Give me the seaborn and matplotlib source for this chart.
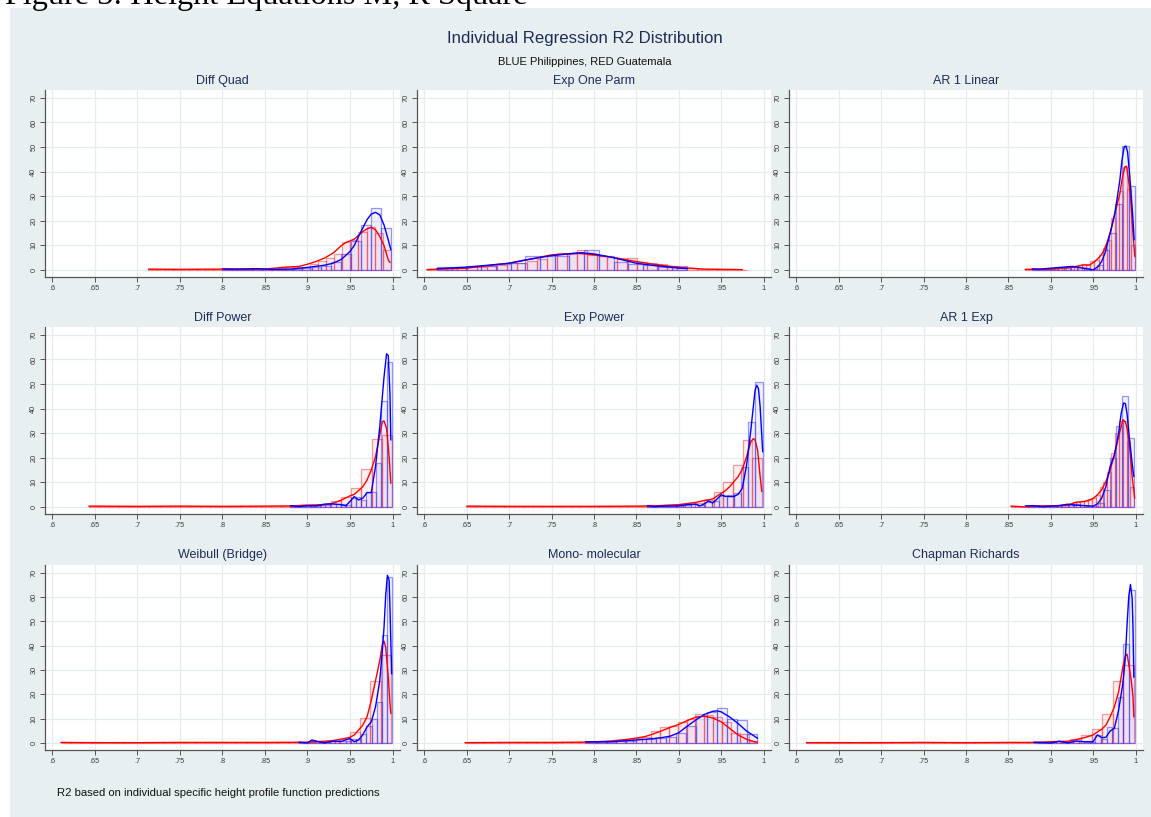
import numpy as np
import matplotlib
matplotlib.use("Agg")
import matplotlib.pyplot as plt
from matplotlib.patches import Rectangle
import seaborn as sns

# ---------------------------------------------------------------- data
PANEL_TITLES = ["Diff Quad", "Exp One Parm", "AR 1 Linear",
                "Diff Power", "Exp Power", "AR 1 Exp",
                "Weibull (Bridge)", "Mono- molecular", "Chapman Richards"]
X_TICKS = [0.6, 0.65, 0.7, 0.75, 0.8, 0.85, 0.9, 0.95, 1.0]
X_TICK_LABELS = [".6", ".65", ".7", ".75", ".8", ".85", ".9", ".95", "1"]
Y_TICKS = [0, 10, 20, 30, 40, 50, 60, 70]
Y_TICK_LABELS = ["0", "10", "20", "30", "40", "50", "60", "70"]

# GT = Guatemala (red), PH = Philippines (blue)
# histogram: first bin edge, bin width, bar heights (density)
# kde: curve x / y

# Diff Quad
DQ_GT_BIN = (0.713, 0.0095)
DQ_GT_HIST = [0.3, 0.2, 0.2, 0.2, 0.3, 0.2, 0.3, 0.2, 0.2, 0.3, 0.2, 0.3, 0.3, 0.3,
              0.3, 0.4, 0.6, 1.0, 1.0, 1.3, 2.2, 3.5, 5.0, 6.5, 11.5, 12.0, 15.6, 17.5, 15.0, 8.0]
DQ_GT_KDE_X = [0.713, 0.75, 0.80, 0.85, 0.87, 0.89, 0.90, 0.91, 0.92, 0.93, 0.94, 0.945, 0.95,
               0.955, 0.96, 0.965, 0.97, 0.975, 0.98, 0.985, 0.99, 0.995, 0.997]
DQ_GT_KDE_Y = [0.3, 0.2, 0.3, 0.3, 1.0, 1.4, 2.3, 3.4, 4.8, 6.8, 9.9, 11.1, 11.8,
               12.5, 14.0, 15.6, 16.7, 17.3, 16.3, 13.6, 9.9, 4.1, 3.0]
DQ_PH_BIN = (0.80, 0.01165)
DQ_PH_HIST = [0.5, 0.3, 0.5, 0.3, 0.2, 0.3, 0.3, 0.5, 0.8, 1.2, 1.5, 3.1, 6.5, 11.6, 18.1, 25.1, 17.0]
DQ_PH_KDE_X = [0.80, 0.82, 0.84, 0.86, 0.88, 0.90, 0.92, 0.93, 0.94, 0.95, 0.955, 0.96, 0.965,
               0.97, 0.975, 0.98, 0.985, 0.99, 0.995, 0.998]
DQ_PH_KDE_Y = [0.4, 0.3, 0.5, 0.2, 0.3, 1.0, 1.9, 2.7, 4.3, 7.5, 9.9, 13.6, 17.0,
               20.4, 22.7, 23.4, 22.4, 18.3, 12.2, 8.2]

# Exp One Parm
EO_GT_BIN = (0.603, 0.0118)
EO_GT_HIST = [0.3, 0.5, 0.6, 0.8, 1.0, 1.2, 1.5, 2.0, 2.7, 3.0, 3.5, 4.5, 6.0, 6.8, 6.5, 8.2,
              6.0, 5.5, 5.2, 5.0, 4.8, 3.4, 2.8, 2.3, 1.5, 1.0, 0.7, 0.4, 0.3, 0.2, 0.2, 0.1]
EO_GT_KDE_X = [0.603, 0.65, 0.70, 0.72, 0.75, 0.78, 0.80, 0.82, 0.85, 0.87, 0.90, 0.93, 0.975]
EO_GT_KDE_Y = [0.1, 0.7, 2.7, 4.0, 6.1, 6.8, 6.1, 5.2, 3.4, 2.3, 1.0, 0.3, 0.1]
EO_PH_BIN = (0.615, 0.01735)
EO_PH_HIST = [1.1, 1.2, 1.5, 1.5, 2.3, 3.0, 5.8, 5.8, 5.7, 6.8, 8.2, 5.8, 3.4, 2.5, 1.8, 1.2, 1.4]
EO_PH_KDE_X = [0.615, 0.65, 0.70, 0.72, 0.75, 0.785, 0.80, 0.82, 0.85, 0.87, 0.90, 0.91]
EO_PH_KDE_Y = [0.5, 1.1, 2.7, 4.1, 5.8, 7.0, 6.5, 5.2, 2.7, 1.8, 0.7, 0.5]

# AR 1 Linear
AL_GT_BIN = (0.870, 0.0048)
AL_GT_HIST = [0.3, 0.2, 0.3, 0.3, 0.3, 0.4, 0.5, 0.6, 0.8, 1.0, 1.2, 1.2, 1.5, 2.0, 2.2, 2.0,
              3.5, 4.0, 6.0, 9.0, 12.0, 21.0, 27.0, 32.0, 42.0, 33.0, 10.0]
AL_GT_KDE_X = [0.870, 0.90, 0.926, 0.938, 0.946, 0.952, 0.958, 0.962, 0.966, 0.970, 0.9736,
               0.9776, 0.9815, 0.9846, 0.9874, 0.9894, 0.9913, 0.9941, 0.9972, 0.9992]
AL_GT_KDE_Y = [0.2, 0.3, 1.1, 2.0, 2.0, 3.4, 5.4, 7.4, 10.8, 14.9, 20.3,
               25.7, 31.0, 37.8, 41.9, 42.2, 37.8, 29.7, 13.5, 5.4]
AL_PH_BIN = (0.878, 0.0076)
AL_PH_HIST = [0.4, 0.3, 0.2, 0.4, 0.6, 0.9, 1.3, 1.0, 0.8, 0.5, 1.8, 8.0, 15.0, 27.0, 50.5, 34.0]
AL_PH_KDE_X = [0.878, 0.887, 0.9106, 0.926, 0.938, 0.950, 0.956, 0.960, 0.964, 0.968, 0.972,
               0.9756, 0.978, 0.9815, 0.984, 0.9866, 0.9886, 0.9906, 0.9933, 0.9965, 0.9984]
AL_PH_KDE_Y = [0.4, 0.3, 1.0, 1.4, 0.7, 0.0, 1.4, 3.4, 6.8, 12.2, 17.6,
               23.0, 28.4, 36.5, 44.6, 50.0, 50.4, 48.0, 37.8, 23.0, 12.2]

# Diff Power
DP_GT_BIN = (0.643, 0.01187)
DP_GT_HIST = [0.3, 0.2, 0.2, 0.3, 0.2, 0.2, 0.3, 0.2, 0.3, 0.2, 0.2, 0.3, 0.2, 0.2, 0.3, 0.2,
              0.2, 0.3, 0.3, 0.4, 0.5, 0.8, 0.9, 1.2, 2.4, 4.2, 7.8, 15.3, 27.8, 29.2]
DP_GT_KDE_X = [0.643, 0.70, 0.75, 0.80, 0.85, 0.88, 0.90, 0.92, 0.93, 0.94, 0.95, 0.955, 0.96,
               0.965, 0.97, 0.975, 0.98, 0.985, 0.988, 0.99, 0.993, 0.996, 0.998]
DP_GT_KDE_Y = [0.3, 0.2, 0.3, 0.2, 0.3, 0.4, 0.7, 0.9, 1.5, 2.8, 4.5, 5.1, 6.6,
               8.2, 10.9, 15.0, 20.4, 29.2, 34.6, 35.0, 31.9, 20.4, 9.6]
DP_PH_BIN = (0.879, 0.006)
DP_PH_HIST = [0.5, 0.3, 0.2, 0.3, 0.4, 0.5, 0.6, 0.8, 1.0, 1.2, 1.2, 0.8, 3.5, 4.0, 3.0, 6.0,
              6.0, 18.0, 43.0, 59.0]
DP_PH_KDE_X = [0.88, 0.89, 0.90, 0.91, 0.92, 0.93, 0.94, 0.945, 0.95, 0.955, 0.96, 0.965, 0.97,
               0.975, 0.98, 0.985, 0.99, 0.993, 0.995, 0.997, 0.998]
DP_PH_KDE_Y = [0.5, 0.1, 0.5, 0.4, 1.1, 1.2, 0.9, 0.4, 2.2, 4.2, 2.8, 3.5, 5.8,
               5.8, 16.4, 32.6, 52.8, 62.3, 61.6, 46.0, 27.2]

# Exp Power
EP_GT_BIN = (0.649, 0.01125)
EP_GT_HIST = [0.3, 0.2, 0.3, 0.2, 0.2, 0.3, 0.2, 0.2, 0.3, 0.2, 0.2, 0.2, 0.3, 0.2, 0.2, 0.3,
              0.3, 0.2, 0.3, 0.4, 0.4, 0.6, 0.9, 1.2, 1.6, 2.8, 6.2, 10.0, 17.0, 27.2, 19.7]
EP_GT_KDE_X = [0.65, 0.70, 0.75, 0.80, 0.85, 0.87, 0.90, 0.92, 0.93, 0.94, 0.95, 0.955, 0.96,
               0.97, 0.975, 0.98, 0.985, 0.988, 0.99, 0.993, 0.996, 0.998]
EP_GT_KDE_Y = [0.3, 0.2, 0.2, 0.2, 0.3, 0.4, 0.9, 1.8, 2.6, 3.2, 5.5, 6.6, 8.2,
               12.3, 15.3, 20.4, 26.5, 27.8, 27.2, 23.1, 12.3, 6.2]
EP_PH_BIN = (0.863, 0.0085)
EP_PH_HIST = [0.6, 0.2, 0.3, 0.3, 0.4, 0.8, 1.0, 0.8, 1.8, 2.5, 4.5, 4.7, 5.5, 16.4, 34.6, 51.0]
EP_PH_KDE_X = [0.863, 0.87, 0.88, 0.90, 0.91, 0.92, 0.925, 0.93, 0.935, 0.94, 0.945, 0.95,
               0.955, 0.96, 0.965, 0.97, 0.975, 0.98, 0.985, 0.99, 0.992, 0.994, 0.996, 0.998, 0.999]
EP_PH_KDE_Y = [0.5, 0.1, 0.3, 0.4, 0.9, 1.1, 0.4, 1.2, 2.4, 1.6, 3.1, 4.9,
               4.3, 4.2, 4.2, 5.1, 7.6, 17.0, 31.2, 47.4, 49.5, 48.1, 40.7, 28.5, 22.4]

# AR 1 Exp
AE_GT_BIN = (0.853, 0.00455)
AE_GT_HIST = [0.3, 0.2, 0.1, 0.1, 0.2, 0.3, 0.4, 0.4, 0.4, 0.4, 0.4, 0.5, 0.6, 0.7, 0.8, 1.2,
              1.8, 2.0, 2.2, 2.5, 3.0, 3.5, 5.0, 8.0, 10.0, 14.0, 22.0, 30.0, 35.0, 35.0, 27.0, 8.0]
AE_GT_KDE_X = [0.853, 0.87, 0.88, 0.90, 0.92, 0.93, 0.94, 0.95, 0.955, 0.96, 0.965, 0.97,
               0.975, 0.98, 0.985, 0.988, 0.99, 0.993, 0.996, 0.999]
AE_GT_KDE_Y = [0.3, 0.0, 0.4, 0.4, 0.7, 1.9, 2.2, 3.4, 4.9, 6.9, 10.3, 15.0,
               21.1, 28.5, 35.5, 34.6, 31.9, 24.5, 12.3, 3.5]
AE_PH_BIN = (0.8715, 0.00705)
AE_PH_HIST = [0.4, 0.5, 0.4, 0.2, 0.3, 0.4, 0.6, 0.8, 1.0, 0.8, 0.5, 0.5, 1.5, 7.0, 20.0, 33.0,
              45.0, 28.0]
AE_PH_KDE_X = [0.87, 0.88, 0.89, 0.90, 0.91, 0.92, 0.93, 0.94, 0.95, 0.955, 0.96, 0.965, 0.97,
               0.975, 0.98, 0.983, 0.986, 0.988, 0.99, 0.993, 0.996, 0.998]
AE_PH_KDE_Y = [0.4, 0.5, 0.1, 0.3, 0.5, 1.1, 0.7, 0.5, 0.3, 1.2, 3.5, 8.2, 16.4,
               21.0, 29.9, 38.0, 42.3, 42.0, 38.0, 27.2, 17.7, 12.3]

# Weibull (Bridge)
WB_GT_BIN = (0.61, 0.01213)
WB_GT_HIST = [0.3, 0.2, 0.2, 0.2, 0.1, 0.2, 0.2, 0.1, 0.2, 0.2, 0.3, 0.2, 0.2, 0.2, 0.3, 0.2,
              0.2, 0.3, 0.2, 0.3, 0.2, 0.3, 0.2, 0.3, 0.5, 0.7, 1.0, 1.8, 4.3, 10.4, 25.6, 36.0]
WB_GT_KDE_X = [0.61, 0.65, 0.70, 0.75, 0.80, 0.85, 0.90, 0.92, 0.93, 0.94, 0.95, 0.955, 0.96,
               0.965, 0.97, 0.975, 0.98, 0.985, 0.988, 0.99, 0.992, 0.995, 0.997, 0.998]
WB_GT_KDE_Y = [0.2, 0.1, 0.1, 0.2, 0.2, 0.2, 0.3, 0.7, 1.0, 1.6, 2.3, 3.3, 5.3,
               7.3, 10.7, 17.5, 25.6, 33.8, 40.6, 41.9, 39.2, 27.0, 16.1, 12.1]
WB_PH_BIN = (0.89, 0.0061)
WB_PH_HIST = [0.3, 0.3, 1.0, 0.8, 0.3, 0.4, 0.6, 0.7, 0.8, 1.0, 1.5, 1.5, 3.5, 6.9, 10.0, 16.8,
              44.6, 68.4]
WB_PH_KDE_X = [0.89, 0.90, 0.905, 0.91, 0.92, 0.93, 0.94, 0.95, 0.955, 0.96, 0.965, 0.97, 0.975,
               0.98, 0.985, 0.988, 0.99, 0.992, 0.994, 0.996, 0.997, 0.998, 0.999]
WB_PH_KDE_Y = [0.3, 0.0, 1.2, 0.8, 0.0, 0.7, 0.7, 1.8, 0.5, 1.2, 3.3, 6.6, 8.7,
               14.8, 25.6, 37.9, 47.4, 60.9, 69.0, 67.0, 55.5, 41.9, 28.4]

# Mono- molecular
MM_GT_BIN = (0.648, 0.01045)
MM_GT_HIST = [0.2, 0.3, 0.2, 0.2, 0.2, 0.3, 0.2, 0.2, 0.2, 0.2, 0.3, 0.2, 0.2, 0.3, 0.4, 0.6,
              1.0, 1.0, 1.8, 2.0, 2.5, 5.0, 6.5, 7.0, 8.8, 10.0, 12.1, 11.5, 10.5, 8.5, 4.0, 3.5, 1.0]
MM_GT_KDE_X = [0.648, 0.70, 0.75, 0.78, 0.80, 0.82, 0.84, 0.85, 0.86, 0.87, 0.88, 0.89, 0.90,
               0.91, 0.92, 0.93, 0.94, 0.95, 0.96, 0.97, 0.98, 0.99, 0.993]
MM_GT_KDE_Y = [0.1, 0.2, 0.2, 0.3, 0.4, 0.8, 1.5, 2.0, 2.6, 3.7, 5.0, 6.4, 7.6,
               9.2, 10.6, 11.0, 10.3, 8.7, 6.0, 3.3, 1.5, 0.4, 0.3]
MM_PH_BIN = (0.79, 0.0119)
MM_PH_HIST = [0.5, 0.5, 0.5, 0.8, 1.0, 1.5, 1.8, 2.2, 2.5, 4.0, 7.0, 11.0, 12.8, 14.4, 10.0, 9.6, 3.7]
MM_PH_KDE_X = [0.79, 0.82, 0.85, 0.87, 0.88, 0.89, 0.90, 0.91, 0.92, 0.93, 0.94, 0.945, 0.95,
               0.96, 0.97, 0.98, 0.99, 0.993]
MM_PH_KDE_Y = [0.5, 0.5, 1.2, 1.8, 2.2, 2.8, 4.2, 6.9, 9.4, 11.7, 13.0, 13.2, 12.8,
               10.7, 8.0, 4.9, 2.6, 1.9]

# Chapman Richards
CR_GT_BIN = (0.612, 0.01245)
CR_GT_HIST = [0.3, 0.2, 0.2, 0.2, 0.1, 0.2, 0.2, 0.2, 0.3, 0.2, 0.2, 0.2, 0.3, 0.2, 0.2, 0.3,
              0.2, 0.2, 0.3, 0.2, 0.3, 0.2, 0.3, 0.6, 0.8, 1.5, 3.3, 5.6, 12.0, 25.6, 32.0]
CR_GT_KDE_X = [0.612, 0.65, 0.70, 0.75, 0.80, 0.85, 0.88, 0.90, 0.92, 0.93, 0.94, 0.95, 0.955,
               0.96, 0.965, 0.97, 0.975, 0.98, 0.985, 0.988, 0.99, 0.992, 0.995, 0.997, 0.998]
CR_GT_KDE_Y = [0.1, 0.1, 0.1, 0.2, 0.1, 0.2, 0.2, 0.5, 0.7, 1.4, 2.2, 3.3, 4.5,
               5.6, 7.3, 10.7, 14.8, 20.9, 31.1, 35.8, 36.5, 32.4, 25.6, 18.9, 10.7]
CR_PH_BIN = (0.88, 0.0066)
CR_PH_HIST = [0.3, 0.2, 0.1, 0.4, 0.6, 0.3, 0.4, 0.8, 0.8, 0.5, 0.5, 3.3, 1.5, 6.4, 6.0, 18.9,
              40.6, 63.0]
CR_PH_KDE_X = [0.88, 0.90, 0.91, 0.92, 0.93, 0.94, 0.95, 0.955, 0.96, 0.965, 0.97, 0.975, 0.98,
               0.985, 0.988, 0.99, 0.992, 0.994, 0.996, 0.997, 0.998]
CR_PH_KDE_Y = [0.3, 0.0, 0.7, 0.0, 0.8, 0.5, 0.5, 3.3, 2.2, 2.3, 4.9, 6.0, 13.4,
               24.3, 35.1, 48.7, 60.2, 65.2, 59.5, 47.4, 27.0]

PANELS = [
    ((DQ_GT_BIN, DQ_GT_HIST, DQ_GT_KDE_X, DQ_GT_KDE_Y), (DQ_PH_BIN, DQ_PH_HIST, DQ_PH_KDE_X, DQ_PH_KDE_Y)),
    ((EO_GT_BIN, EO_GT_HIST, EO_GT_KDE_X, EO_GT_KDE_Y), (EO_PH_BIN, EO_PH_HIST, EO_PH_KDE_X, EO_PH_KDE_Y)),
    ((AL_GT_BIN, AL_GT_HIST, AL_GT_KDE_X, AL_GT_KDE_Y), (AL_PH_BIN, AL_PH_HIST, AL_PH_KDE_X, AL_PH_KDE_Y)),
    ((DP_GT_BIN, DP_GT_HIST, DP_GT_KDE_X, DP_GT_KDE_Y), (DP_PH_BIN, DP_PH_HIST, DP_PH_KDE_X, DP_PH_KDE_Y)),
    ((EP_GT_BIN, EP_GT_HIST, EP_GT_KDE_X, EP_GT_KDE_Y), (EP_PH_BIN, EP_PH_HIST, EP_PH_KDE_X, EP_PH_KDE_Y)),
    ((AE_GT_BIN, AE_GT_HIST, AE_GT_KDE_X, AE_GT_KDE_Y), (AE_PH_BIN, AE_PH_HIST, AE_PH_KDE_X, AE_PH_KDE_Y)),
    ((WB_GT_BIN, WB_GT_HIST, WB_GT_KDE_X, WB_GT_KDE_Y), (WB_PH_BIN, WB_PH_HIST, WB_PH_KDE_X, WB_PH_KDE_Y)),
    ((MM_GT_BIN, MM_GT_HIST, MM_GT_KDE_X, MM_GT_KDE_Y), (MM_PH_BIN, MM_PH_HIST, MM_PH_KDE_X, MM_PH_KDE_Y)),
    ((CR_GT_BIN, CR_GT_HIST, CR_GT_KDE_X, CR_GT_KDE_Y), (CR_PH_BIN, CR_PH_HIST, CR_PH_KDE_X, CR_PH_KDE_Y)),
]

# ---------------------------------------------------------------- style
sns.set_theme(style="white")
plt.rcParams['font.family'] = ['Liberation Sans', 'DejaVu Sans']

W, H = 1151, 817
fig = plt.figure(figsize=(W / 100, H / 100), dpi=100)
fig.patch.set_facecolor("white")
fig.add_artist(Rectangle((10 / W, 0), (W - 10) / W, (H - 8) / H, transform=fig.transFigure,
                         facecolor="#e8eff1", edgecolor="none", zorder=-5))

NAVY = "#1c2d5a"
RED_LINE, BLUE_LINE = "#ff0000", "#0000ff"
RED_FACE, RED_EDGE = (1.0, 0.0, 0.0, 0.06), (1.0, 0.2, 0.2, 0.5)
BLUE_FACE, BLUE_EDGE = (0.0, 0.0, 1.0, 0.06), (0.2, 0.2, 1.0, 0.5)

COL_L = [45, 417, 789]
COL_R = [400, 771, 1143]
ROW_T = [90, 327, 565]
ROW_B = [277, 514, 750]
TITLE_Y = [81, 318, 555]
XLIM = (0.5914, 1.0088)
YLIM = (-2.9, 73.2)


def fig_text(x_px, y_px, s, size, **kw):
    return fig.text(x_px / W, 1 - y_px / H, s, fontsize=size, **kw)


def fit_size(s, target_w, **kw):
    t = fig.text(0, 0, s, fontsize=10, **kw)
    r = fig.canvas.get_renderer()
    w = t.get_window_extent(renderer=r).width
    t.remove()
    return 10 * target_w / w


def draw_hist(ax, binspec, heights, face, edge):
    start, width = binspec
    heights = np.asarray(heights, float)
    edges = start + width * np.arange(len(heights) + 1)
    centers = 0.5 * (edges[:-1] + edges[1:])
    n0 = len(ax.patches)
    sns.histplot(x=list(centers), weights=list(heights), bins=[float(e) for e in edges],
                 stat="count", element="bars", fill=True, ax=ax, legend=False)
    for p in ax.patches[n0:]:
        p.set_alpha(None)
        p.set_facecolor(face)
        p.set_edgecolor(edge)
        p.set_linewidth(0.9)
        p.set_zorder(2)


# ---------------------------------------------------------------- panels
for i, (gt, ph) in enumerate(PANELS):
    r, c = divmod(i, 3)
    ax = fig.add_axes([COL_L[c] / W, 1 - ROW_B[r] / H,
                       (COL_R[c] - COL_L[c]) / W, (ROW_B[r] - ROW_T[r]) / H])
    ax.set_facecolor("white")
    draw_hist(ax, gt[0], gt[1], RED_FACE, RED_EDGE)
    draw_hist(ax, ph[0], ph[1], BLUE_FACE, BLUE_EDGE)
    sns.lineplot(x=gt[2], y=gt[3], ax=ax, color=RED_LINE, linewidth=1.0,
                 sort=False, estimator=None, legend=False, zorder=3)
    sns.lineplot(x=ph[2], y=ph[3], ax=ax, color=BLUE_LINE, linewidth=1.0,
                 sort=False, estimator=None, legend=False, zorder=4)
    ax.set_xlim(*XLIM)
    ax.set_ylim(*YLIM)
    ax.set_xticks(X_TICKS)
    ax.set_xticklabels(X_TICK_LABELS)
    ax.set_yticks(Y_TICKS)
    ax.set_yticklabels(Y_TICK_LABELS, rotation=90, va="center")
    ax.set_xlabel("")
    ax.set_ylabel("")
    ax.grid(True, color="#e4ecef", linewidth=0.9)
    ax.set_axisbelow(True)
    for s in ("top", "right"):
        ax.spines[s].set_visible(False)
    for s in ("left", "bottom"):
        ax.spines[s].set_color("#555555")
        ax.spines[s].set_linewidth(0.9)
    ax.tick_params(axis="both", which="major", length=3.5, width=0.7, color="#555555",
                   labelsize=5.3, labelcolor="#3a3a3a", pad=2, direction="out",
                   bottom=True, left=True)

# ---------------------------------------------------------------- texts
ptitle_size = fit_size("Diff Quad", 53)
for i, t in enumerate(PANEL_TITLES):
    r, c = divmod(i, 3)
    fig_text((COL_L[c] + COL_R[c]) / 2, TITLE_Y[r], t, ptitle_size, color=NAVY,
             ha="center", va="center")

fig_text(585, 39, "Individual Regression R2 Distribution",
         fit_size("Individual Regression R2 Distribution", 275), color=NAVY,
         ha="center", va="center")
fig_text(585, 62, "BLUE Philippines, RED Guatemala",
         fit_size("BLUE Philippines, RED Guatemala", 174), color="#111111",
         ha="center", va="center")
fig_text(57, 793, "R2 based on individual specific height profile function predictions",
         fit_size("R2 based on individual specific height profile function predictions", 323),
         color="#111111", ha="left", va="center")
fig_text(5, 4, "Figure 3: Height Equations M, R Square",
         fit_size("Figure 3: Height Equations M, R Square", 523, family="Liberation Serif"),
         family="Liberation Serif", color="black", ha="left", va="baseline", zorder=5)

fig.savefig("out.png", dpi=100)
